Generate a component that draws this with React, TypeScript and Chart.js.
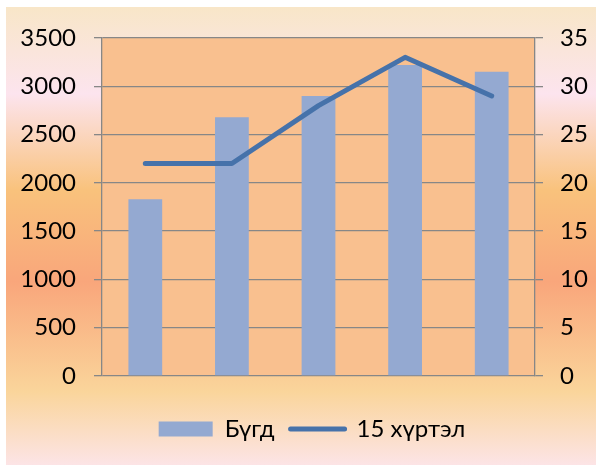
import React, { useEffect, useRef } from "react";
import { Chart, registerables } from "chart.js";

Chart.register(...registerables);

const categories = ["1", "2", "3", "4", "5"];
const barLabel = "Бүгд";
const lineLabel = "15 хүртэл";
const barValues = [1830, 2680, 2900, 3220, 3150];
const lineValues = [22, 22, 28, 33, 29];
const leftTicks = { min: 0, max: 3500, step: 500 };
const rightTicks = { min: 0, max: 35, step: 5 };

const BAR_COLOR = "#94A9D1";
const LINE_COLOR = "#4672AA";
const PLOT_BG = "#F9C08F";
const GRID = "#878787";
const FONT = 'Lato, "Open Sans", sans-serif';
const FONT_SIZE = 24;

const bgPlugin = {
  id: "bgPlugin",
  afterLayout(chart: any) {
    const lg = chart.legend;
    if (lg) {
      lg.left += 14;
      lg.right += 14;
    }
  },
  beforeDraw(chart: any) {
    const { ctx, chartArea } = chart;
    ctx.save();
    const x0 = 6, y0 = 7, x1 = 596, y1 = 465;
    const g = ctx.createLinearGradient(0, y0, 0, y1);
    g.addColorStop(0, "#F8E6C8");
    g.addColorStop(0.19, "#FCE4EE");
    g.addColorStop(0.4, "#F9C27C");
    g.addColorStop(0.6, "#F9A67B");
    g.addColorStop(0.84, "#FAD59B");
    g.addColorStop(1, "#FCE4E6");
    ctx.fillStyle = g;
    ctx.fillRect(x0, y0, x1 - x0, y1 - y0);
    ctx.fillStyle = PLOT_BG;
    ctx.fillRect(chartArea.left, chartArea.top, chartArea.right - chartArea.left, chartArea.bottom - chartArea.top);
    ctx.restore();
  },
};

export default function App() {
  const ref = useRef<HTMLCanvasElement>(null);
  useEffect(() => {
    document.body.style.margin = "0";
    const chart = new Chart(ref.current as HTMLCanvasElement, {
      type: "bar",
      data: {
        labels: categories,
        datasets: [
          {
            type: "bar",
            label: barLabel,
            data: barValues,
            backgroundColor: BAR_COLOR,
            yAxisID: "y",
            order: 1,
            barPercentage: 0.39,
            categoryPercentage: 1,
          },
          {
            type: "line",
            label: lineLabel,
            data: lineValues,
            borderColor: LINE_COLOR,
            backgroundColor: LINE_COLOR,
            borderWidth: 5,
            pointRadius: 0,
            borderCapStyle: "round",
            borderJoinStyle: "round",
            yAxisID: "y1",
            order: 0,
          } as any,
        ],
      },
      options: {
        responsive: false,
        animation: false,
        layout: { padding: { top: 38, left: 0, right: 0, bottom: 17 } },
        plugins: {
          tooltip: { enabled: false },
          legend: {
            position: "bottom",
            labels: {
              font: { family: FONT, size: FONT_SIZE },
              color: "#000",
              usePointStyle: true,
              pointStyleWidth: 54,
              boxHeight: 15,
              padding: 16,
              generateLabels: (ch: any) =>
                ch.data.datasets.map((ds: any, i: number) => ({
                  text: ds.label,
                  fillStyle: ds.type === "line" ? ds.borderColor : ds.backgroundColor,
                  strokeStyle: ds.type === "line" ? ds.borderColor : ds.backgroundColor,
                  lineWidth: ds.type === "line" ? 5 : 0,
                  lineCap: "round",
                  pointStyle: ds.type === "line" ? "line" : "rect",
                  datasetIndex: i,
                  hidden: false,
                  fontColor: "#000",
                })),
            },
          },
        },
        scales: {
          x: {
            display: true,
            grid: { display: false, drawTicks: false },
            border: { display: false },
            ticks: { display: false },
            afterFit: (s: any) => {
              s.height = 25;
            },
          },
          y: {
            position: "left",
            min: leftTicks.min,
            max: leftTicks.max,
            ticks: {
              stepSize: leftTicks.step,
              padding: 18,
              color: "#000",
              font: { family: FONT, size: FONT_SIZE },
              callback: (v: any) => String(v),
            },
            grid: { color: GRID, lineWidth: 1.3, tickLength: 8 },
            border: { color: GRID, width: 1.3 },
            afterFit: (s: any) => {
              s.width = 102;
            },
          },
          y1: {
            position: "right",
            min: rightTicks.min,
            max: rightTicks.max,
            ticks: {
              stepSize: rightTicks.step,
              padding: 17,
              color: "#000",
              font: { family: FONT, size: FONT_SIZE },
              callback: (v: any) => String(v),
            },
            grid: { drawOnChartArea: false, color: GRID, lineWidth: 1.3, tickLength: 8 },
            border: { color: GRID, width: 1.3 },
            afterFit: (s: any) => {
              s.width = 61;
            },
          },
        },
      },
      plugins: [bgPlugin],
    });
    return () => chart.destroy();
  }, []);
  return <canvas ref={ref} width={596} height={468} style={{ display: "block" }} />;
}
